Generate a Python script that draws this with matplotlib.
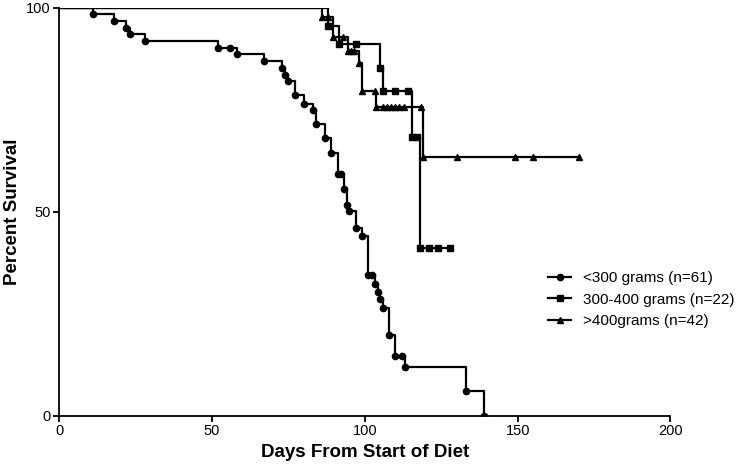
import matplotlib
matplotlib.use("Agg")
import matplotlib.pyplot as plt

plt.rcParams['font.family'] = ['Liberation Sans', 'DejaVu Sans']

# <300 grams (n=61)
days_a = [0, 11, 18, 21.8, 23, 28, 52, 56, 58, 67, 73, 73.8, 74.9, 77, 80, 83, 84, 87,
          89, 91.3, 92.3, 93.1, 94.1, 94.9, 97, 99, 101, 102.2, 103.3, 104.2, 105.1,
          106, 108, 110, 112, 113, 133, 139]
surv_a = [100, 98.4, 96.7, 95.1, 93.4, 91.8, 90.2, 90.2, 88.5, 86.9, 85.2, 83.5, 81.9,
          78.6, 76.5, 74.8, 71.4, 68.0, 64.5, 59.3, 59.3, 55.5, 51.7, 50.1, 46.1, 44.1,
          34.6, 34.6, 32.4, 30.4, 28.6, 26.5, 19.8, 14.8, 14.8, 11.9, 6.0, 0]

# 300-400 grams (n=22)
days_b = [0, 88, 91.5, 97, 105, 106, 110, 114, 115.5, 117, 118, 121, 124, 128]
surv_b = [100, 95.5, 91.0, 91.0, 85.1, 79.6, 79.6, 79.6, 68.2, 68.2, 41.0, 41.0, 41.0, 41.0]

# >400 grams (n=42)
days_c = [0, 86, 88, 89.6, 92.9, 94.5, 95.5, 96.5, 98, 98.9, 103.3, 103.8, 106, 107.1,
          108.5, 109.8, 111.3, 112.8, 118.3, 119, 130, 149, 155, 170]
surv_c = [100, 97.6, 97.6, 92.9, 92.9, 89.4, 89.4, 89.4, 86.3, 79.6, 79.6, 75.7, 75.7,
          75.7, 75.7, 75.7, 75.7, 75.7, 75.7, 63.3, 63.3, 63.3, 63.3, 63.3]

labels = ['<300 grams (n=61)', '300-400 grams (n=22)', '>400grams (n=42)']

fig = plt.figure(figsize=(7.5, 4.7), dpi=100)
ax = fig.add_axes([0.079, 0.115, 0.815, 0.869])

series = [(days_a, surv_a, 'o'), (days_b, surv_b, 's'), (days_c, surv_c, '^')]
for (d, s, m), lab in zip(series, labels):
    ax.plot(d, s, drawstyle='steps-post', color='black', lw=1.6, marker=m,
            markersize=4.5, markevery=range(1, len(d)), label=lab)

ax.set_xlim(0, 200)
ax.set_ylim(0, 100)
ax.set_xticks([0, 50, 100, 150, 200])
ax.set_yticks([0, 50, 100])
ax.spines['top'].set_visible(False)
ax.spines['right'].set_visible(False)
for sp in ['left', 'bottom']:
    ax.spines[sp].set_linewidth(1.3)
ax.tick_params(direction='out', length=4, width=1.3, labelsize=10.5, pad=2)
ax.set_xlabel('Days From Start of Diet', fontsize=13.5, fontweight='bold', labelpad=4)
ax.set_ylabel('Percent Survival', fontsize=13.5, fontweight='bold', labelpad=4)

ax.legend(loc='upper left', bbox_to_anchor=(0.79, 0.37), frameon=False, fontsize=11,
          handlelength=1.5, handletextpad=0.8, labelspacing=0.5, borderaxespad=0)

fig.savefig('out.png', dpi=100)
